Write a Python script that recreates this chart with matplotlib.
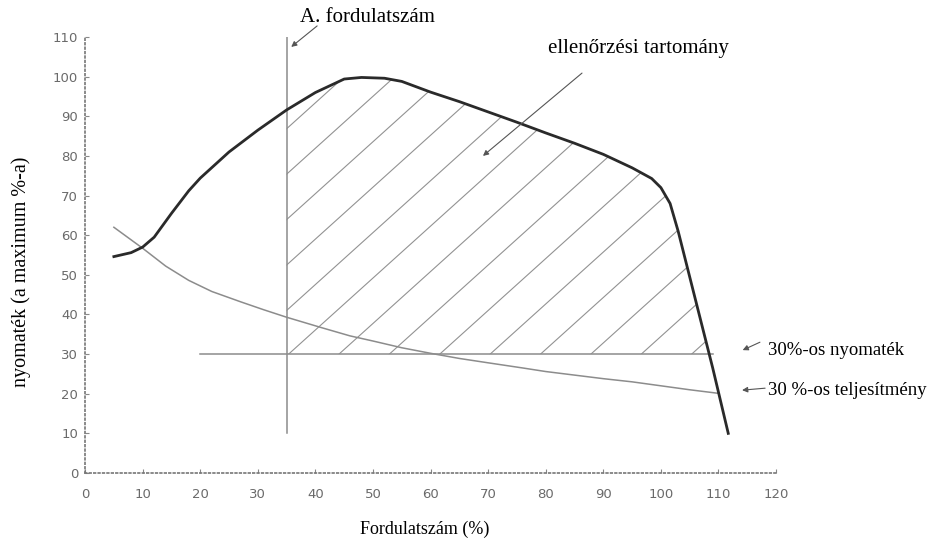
import numpy as np
import matplotlib
matplotlib.use('Agg')
import matplotlib.pyplot as plt
from matplotlib.patches import Polygon

# nyomatékgörbe (a maximum %-a)
torque_x = [5, 8, 10, 12, 15, 18, 20, 25, 30, 35, 40, 45, 48, 52, 55, 60, 65, 70, 75, 80,
            85, 90, 95, 98.4, 100, 101.6, 103, 105, 107, 109, 111.7]
torque_y = [54.6, 55.6, 57, 59.5, 65.5, 71.2, 74.4, 81, 86.5, 91.6, 96, 99.4, 99.8, 99.6, 98.8,
            96.1, 93.7, 91.1, 88.5, 85.8, 83.2, 80.4, 77, 74.3, 72, 68, 61, 49.5, 38, 26.5, 10]

# 30 %-os teljesítmény görbe
power_x = [5, 10, 14, 18, 22, 27, 31, 35, 41, 46, 50, 55, 60, 65, 70, 76, 80, 85, 90, 95, 100, 105, 110]
power_y = [62, 56.7, 52.2, 48.6, 45.8, 43.2, 41.2, 39.3, 36.7, 34.6, 33.3, 31.6, 30.2, 28.9, 27.8,
           26.5, 25.6, 24.7, 23.8, 23, 22, 21, 20.1]

a_speed = 35          # A. fordulatszám
a_line_y = [10, 110]
torque_30 = 30        # 30%-os nyomaték
torque_30_x = [20, 109]

x_ticks = list(range(0, 121, 10))
y_ticks = list(range(0, 111, 10))

serif = 'Liberation Serif'
gray_tick = '#6a6a6a'

fig = plt.figure(figsize=(9.35, 5.46), dpi=100)
ax = fig.add_axes([0.091, 0.1337, 0.739, 0.7985])

# ellenőrzési tartomány - sraffozás
tx = np.array(torque_x)
ty = np.array(torque_y)
mask = (tx >= a_speed) & (ty >= torque_30)
px = list(tx[mask])
py = list(ty[mask])
# metszés a 30%-os vonallal
i = np.where(mask)[0][-1]
xc = tx[i] + (torque_30 - ty[i]) * (tx[i + 1] - tx[i]) / (ty[i + 1] - ty[i])
verts = [(a_speed, torque_30)] + list(zip(px, py)) + [(xc, torque_30)]
region = Polygon(verts, closed=True, facecolor='none', edgecolor='none', transform=ax.transData)
ax.add_patch(region)

slope = 1.31
spacing = 8.75
anchor = 61.6
hx = np.array([0, 130])
for k in range(-12, 12):
    x0 = anchor + k * spacing
    ln, = ax.plot(hx, torque_30 + slope * (hx - x0), color='#929292', lw=0.8)
    ln.set_clip_path(region)

ax.plot([a_speed, a_speed], a_line_y, color='#8c8c8c', lw=1.1)
ax.plot(torque_30_x, [torque_30, torque_30], color='#8c8c8c', lw=1.1)
ax.plot(power_x, power_y, color='#8c8c8c', lw=1.1)
ax.plot(torque_x, torque_y, color='#2a2a2a', lw=2)

ax.set_xlim(0, 120)
ax.set_ylim(0, 110)
ax.set_xticks(x_ticks)
ax.set_yticks(y_ticks)
ax.tick_params(axis='both', direction='in', length=3, color='#888', labelcolor=gray_tick, labelsize=9.5)
ax.tick_params(axis='x', pad=11)
ax.tick_params(axis='y', pad=5)
for s in ['top', 'right']:
    ax.spines[s].set_visible(False)
for s in ['left', 'bottom']:
    ax.spines[s].set_linestyle(':')
    ax.spines[s].set_color('#777')
    ax.spines[s].set_linewidth(1.2)

ax.set_xlabel('Fordulatszám (%)', family=serif, fontsize=13)
ax.set_ylabel('nyomaték (a maximum %-a)', family=serif, fontsize=14.5)
ax.xaxis.set_label_coords(0.492, -0.11)
ax.yaxis.set_label_coords(-0.078, 0.461)

arrow = dict(arrowstyle='-|>', color='#555', lw=0.8, mutation_scale=8, shrinkA=0, shrinkB=0)
ax.annotate('', xy=(35.8, 107.5), xytext=(40.3, 112.8), arrowprops=arrow, annotation_clip=False)
ax.text(37.3, 114.8, 'A. fordulatszám', family=serif, fontsize=15, va='center', ha='left', clip_on=False)

ax.annotate('', xy=(69.1, 80), xytext=(86.3, 100.9), arrowprops=arrow, annotation_clip=False)
ax.text(80.4, 107.2, 'ellenőrzési tartomány', family=serif, fontsize=15, va='center', ha='left')

ax.annotate('', xy=(114.2, 31), xytext=(117.2, 33), arrowprops=arrow, annotation_clip=False)
ax.text(118.6, 30.8, '30%-os nyomaték', family=serif, fontsize=13.5, va='center', ha='left', clip_on=False)

ax.annotate('', xy=(114.1, 20.9), xytext=(118.1, 21.4), arrowprops=arrow, annotation_clip=False)
ax.text(118.6, 20.9, '30 %-os teljesítmény', family=serif, fontsize=13.5, va='center', ha='left', clip_on=False)

fig.savefig('out.png', dpi=100)
